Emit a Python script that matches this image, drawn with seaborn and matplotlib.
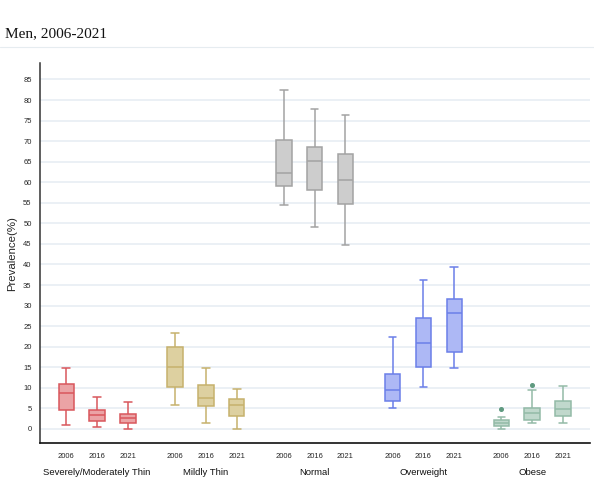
import numpy as np
import pandas as pd
import matplotlib
matplotlib.use("Agg")
import matplotlib.pyplot as plt
import seaborn as sns

categories = ["Severely/Moderately Thin", "Mildly Thin", "Normal", "Overweight", "Obese"]
years = ["2006", "2016", "2021"]

# box statistics (per category: 2006, 2016, 2021)
whisker_low = [[0.9, 0.5, 0.0], [5.8, 1.45, 0.1], [54.5, 49.0, 44.8], [5.2, 10.1, 14.8], [0.1, 1.5, 1.5]]
q1 = [[4.5, 1.95, 1.45], [10.1, 5.5, 3.25], [59.2, 58.2, 54.7], [6.7, 15.1, 18.6], [0.8, 2.2, 3.25]]
median = [[8.8, 3.5, 2.6], [15.0, 7.4, 5.7], [62.3, 65.2, 60.5], [9.4, 21.0, 28.1], [1.5, 3.8, 4.9]]
q3 = [[10.9, 4.7, 3.55], [20.0, 10.7, 7.3], [70.2, 68.5, 66.8], [13.3, 26.9, 31.7], [2.1, 5.2, 6.9]]
whisker_high = [[14.9, 7.7, 6.6], [23.3, 14.8, 9.8], [82.4, 77.9, 76.3], [22.3, 36.3, 39.4], [3.0, 9.4, 10.55]]
outliers = [[None, None, None], [None, None, None], [None, None, None], [None, None, None], [4.8, 10.7, None]]

fills = ["#eba3a5", "#ddd0a0", "#cdcdcd", "#adb8f5", "#c0d8cc"]
edges = ["#d9575d", "#c6b16c", "#a3a3a3", "#6b7fe8", "#93baa7"]
flier_colors = ["#d9575d", "#c6b16c", "#a3a3a3", "#6b7fe8", "#5f9a80"]

rows = []
for i, cat in enumerate(categories):
    for j, yr in enumerate(years):
        lo, a, m, b, hi, out = (whisker_low[i][j], q1[i][j], median[i][j], q3[i][j],
                                whisker_high[i][j], outliers[i][j])
        if out is None:
            sample = [lo, a, a, m, m, m, b, b, hi]
        else:
            sample = [lo, a, a, m, m, m, b, hi, out]
        for v in sample:
            rows.append({"category": cat, "year": yr, "value": v})
df = pd.DataFrame(rows)

sns.set_style("white")
plt.rcParams['font.family'] = ['Liberation Sans', 'DejaVu Sans']

fig = plt.figure(figsize=(5.94, 4.93), dpi=100)
ax = fig.add_axes([0.0673, 0.1008, 0.9257, 0.7714])

width = 0.85
for i, cat in enumerate(categories):
    sub = df[df["category"] == cat]
    sns.boxplot(data=sub, x="category", y="value", hue="year", order=categories,
                hue_order=years, palette={y: fills[i] for y in years},
                linecolor=edges[i], linewidth=1.1, width=width, gap=0.5,
                saturation=1, legend=False, ax=ax, whis=1.5,
                flierprops=dict(marker="o", markersize=2.6,
                                markerfacecolor=flier_colors[i],
                                markeredgecolor=flier_colors[i]))

ax.set_ylim(-3.5, 89)
ax.set_xlim(-0.525, 4.53)
ax.set_yticks(np.arange(0, 86, 5))
ax.yaxis.grid(True, color="#ebf0f5", linewidth=1.4)
ax.set_axisbelow(True)
ax.tick_params(axis="y", labelsize=5.5, length=4, width=0.8, color="#333333", pad=2)

# year tick labels under each box
offsets = [-width / 3, 0, width / 3]
pos, labs = [], []
for i in range(len(categories)):
    for j, yr in enumerate(years):
        pos.append(i + offsets[j])
        labs.append(yr)
ax.set_xticks(pos)
ax.set_xticklabels(labs)
ax.tick_params(axis="x", labelsize=5.5, length=0, pad=7)
for i, cat in enumerate(categories):
    ax.text(i, -0.078, cat, transform=ax.get_xaxis_transform(), ha="center",
            va="center", fontsize=6.8, color="#111111")

ax.set_xlabel("")
ax.set_ylabel("Prevalence(%)", fontsize=8.2, labelpad=4)

for s in ["top", "right"]:
    ax.spines[s].set_visible(False)
ax.spines["left"].set_color("#333333")
ax.spines["left"].set_linewidth(1.1)
ax.spines["bottom"].set_color("#111111")
ax.spines["bottom"].set_linewidth(1.2)

fig.text(0.009, 0.925, "Men, 2006-2021", fontsize=11, family=["Liberation Serif"],
         ha="left", va="baseline", color="#111111")
fig.add_artist(plt.Line2D([0, 1], [0.905, 0.905], color="#e6ecf0", linewidth=0.8,
                          transform=fig.transFigure))

fig.savefig("out.png", dpi=100)
